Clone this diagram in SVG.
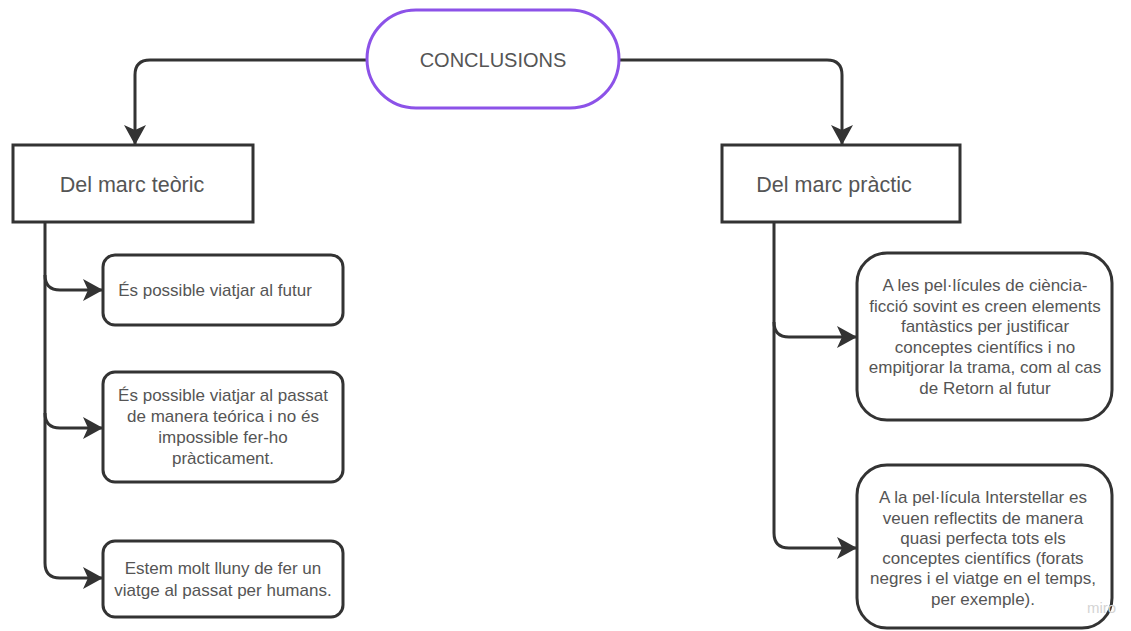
<svg xmlns="http://www.w3.org/2000/svg" width="1131" height="631" viewBox="0 0 1131 631">
<defs>
<style>
.line{fill:none;stroke:#333;stroke-width:3}
.box{fill:#fff;stroke:#333;stroke-width:3}
.t{font-family:"Liberation Sans",Arial,sans-serif;font-size:17px;fill:#555;text-anchor:middle}
.h{font-family:"Liberation Sans",Arial,sans-serif;font-size:21.5px;fill:#555;text-anchor:middle}
</style>
<marker id="arr" viewBox="0 0 20 22" refX="19" refY="11" markerWidth="20" markerHeight="22" markerUnits="userSpaceOnUse" orient="auto">
<path d="M0,0 L20,11 L0,22 L5,11 z" fill="#333"/>
</marker>
</defs>
<rect width="1131" height="631" fill="#fff"/>
<g id="connectors">
<path class="line" d="M367,60 H150 Q135,60 135,75 V144" marker-end="url(#arr)"/>
<path class="line" d="M619,60 H827 Q842,60 842,75 V144" marker-end="url(#arr)"/>
<path class="line" d="M45,222 V563 Q45,578 60,578 H102" marker-end="url(#arr)"/>
<path class="line" d="M45,275 Q45,290 60,290 H102" marker-end="url(#arr)"/>
<path class="line" d="M45,413 Q45,428 60,428 H102" marker-end="url(#arr)"/>
<path class="line" d="M774,222 V533 Q774,548 789,548 H856" marker-end="url(#arr)"/>
<path class="line" d="M774,322 Q774,337 789,337 H856" marker-end="url(#arr)"/>
</g>
<g id="conclusions">
<rect x="367" y="10" width="252" height="98" rx="49" fill="#fff" stroke="#8c52e8" stroke-width="3"/>
<text class="h" x="493" y="67" style="font-size:20px">CONCLUSIONS</text>
</g>
<g id="teoric">
<rect class="box" x="13" y="145" width="240" height="77"/>
<text class="h" x="132" y="192">Del marc teòric</text>
</g>
<g id="practic">
<rect class="box" x="722" y="145" width="238" height="77"/>
<text class="h" x="834" y="192">Del marc pràctic</text>
</g>
<g id="t1">
<rect class="box" x="103" y="255" width="240" height="70" rx="12"/>
<text class="t" x="215" y="296">És possible viatjar al futur</text>
</g>
<g id="t2">
<rect class="box" x="103" y="372" width="240" height="110" rx="12"/>
<text class="t" x="223" y="401">És possible viatjar al passat</text>
<text class="t" x="223" y="422">de manera teórica i no és</text>
<text class="t" x="223" y="443">impossible fer-ho</text>
<text class="t" x="223" y="464">pràcticament.</text>
</g>
<g id="t3">
<rect class="box" x="103" y="541" width="240" height="76" rx="12"/>
<text class="t" x="223" y="574">Estem molt lluny de fer un</text>
<text class="t" x="223" y="596">viatge al passat per humans.</text>
</g>
<g id="p1">
<rect class="box" x="857" y="253" width="255" height="167" rx="30"/>
<text class="t" x="985" y="291">A les pel·lícules de ciència-</text>
<text class="t" x="985" y="312">ficció sovint es creen elements</text>
<text class="t" x="985" y="332">fantàstics per justificar</text>
<text class="t" x="985" y="353">conceptes científics i no</text>
<text class="t" x="985" y="373">empitjorar la trama, com al cas</text>
<text class="t" x="985" y="394">de Retorn al futur</text>
</g>
<g id="p2">
<rect class="box" x="857" y="465" width="255" height="163" rx="30"/>
<text class="t" x="983" y="503">A la pel·lícula Interstellar es</text>
<text class="t" x="983" y="524">veuen reflectits de manera</text>
<text class="t" x="983" y="544">quasi perfecta tots els</text>
<text class="t" x="983" y="564">conceptes científics (forats</text>
<text class="t" x="983" y="584">negres i el viatge en el temps,</text>
<text class="t" x="983" y="605">per exemple).</text>
</g>
<text x="1087" y="613" style="font-family:'Liberation Sans',Arial,sans-serif;font-size:15px;fill:#d4d4d4">miro</text>
</svg>
